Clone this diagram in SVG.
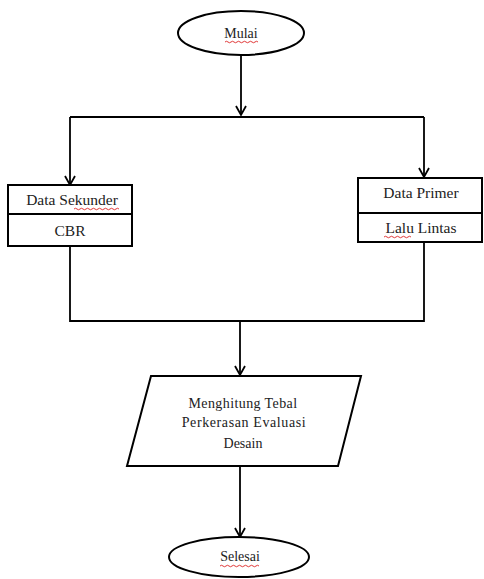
<svg xmlns="http://www.w3.org/2000/svg" width="484" height="579" viewBox="0 0 484 579">
<style>
.shape{fill:#fff;stroke:#000;stroke-width:2}
.conn{fill:none;stroke:#000;stroke-width:1.8}
text{font-family:'Liberation Serif','DejaVu Serif',serif;font-size:14px;fill:#222;text-anchor:middle}
.bx{font-size:15.5px}
.sq{fill:none;stroke:#d22;stroke-width:0.9}
</style>
<defs>
<marker id="arr" viewBox="0 0 12 12" refX="10" refY="6" markerWidth="12" markerHeight="12" markerUnits="userSpaceOnUse" orient="auto">
<path d="M1,1 L10,6 L1,11" fill="none" stroke="#000" stroke-width="1.8"/>
</marker>
</defs>
<rect width="484" height="579" fill="#fff"/>
<g id="connectors">
<path class="conn" d="M241,55 V115" marker-end="url(#arr)"/>
<path class="conn" d="M70,117 H424"/>
<path class="conn" d="M70,117 V185" marker-end="url(#arr)"/>
<path class="conn" d="M424,117 V177" marker-end="url(#arr)"/>
<path class="conn" d="M70,246 V321 H424 V242"/>
<path class="conn" d="M240,321 V375" marker-end="url(#arr)"/>
<path class="conn" d="M240,466 V537" marker-end="url(#arr)"/>
</g>
<g id="mulai">
<ellipse class="shape" cx="241" cy="33" rx="63" ry="22"/>
<text x="241" y="38">Mulai</text>
<path class="sq" d="M225,42 q1.5,-1.5 3,0 t3,0 t3,0 t3,0 t3,0 t3,0 t3,0 t3,0 t3,0 t3,0 t3,0"/>
</g>
<g id="data-sekunder">
<rect class="shape" x="8" y="185" width="124" height="61"/>
<line x1="8" y1="214" x2="132" y2="214" stroke="#000" stroke-width="2"/>
<text class="bx" x="72" y="205">Data Sekunder</text>
<text class="bx" x="70" y="236">CBR</text>
<path class="sq" d="M74,209 q1.5,-1.5 3,0 t3,0 t3,0 t3,0 t3,0 t3,0 t3,0 t3,0 t3,0 t3,0 t3,0 t3,0 t3,0 t3,0 t3,0"/>
</g>
<g id="data-primer">
<rect class="shape" x="358" y="178" width="124" height="64"/>
<line x1="358" y1="213" x2="482" y2="213" stroke="#000" stroke-width="2"/>
<text class="bx" x="421" y="198">Data Primer</text>
<text class="bx" x="421" y="233">Lalu Lintas</text>
<path class="sq" d="M384,237 q1.5,-1.5 3,0 t3,0 t3,0 t3,0 t3,0 t3,0 t3,0 t3,0 t3,0"/>
</g>
<g id="menghitung">
<polygon class="shape" points="151,376 361,376 338,466 127,466"/>
<text x="243" y="408" letter-spacing="0.4">Menghitung Tebal</text>
<text x="244" y="427" letter-spacing="0.6">Perkerasan Evaluasi</text>
<text x="243" y="448">Desain</text>
</g>
<g id="selesai">
<ellipse class="shape" cx="239" cy="557" rx="70" ry="20"/>
<text x="240" y="561">Selesai</text>
<path class="sq" d="M220,566 q1.5,-1.5 3,0 t3,0 t3,0 t3,0 t3,0 t3,0 t3,0 t3,0 t3,0 t3,0 t3,0 t3,0 t3,0"/>
</g>
</svg>
